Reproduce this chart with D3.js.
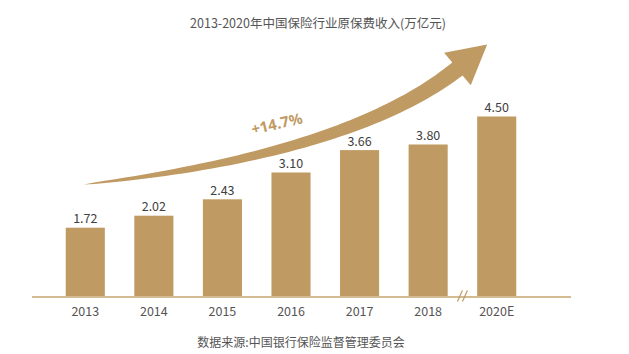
<!DOCTYPE html>
<html>
<head>
<meta charset="utf-8">
<script src="https://cdn.jsdelivr.net/npm/d3@7"></script>
<style>
  body { margin: 0; background: #fff; }
  svg text { font-family: "Noto Sans CJK SC", "Noto Sans", sans-serif; }
</style>
</head>
<body>
<svg id="chart" width="629" height="354"></svg>
<script>
const years = ["2013", "2014", "2015", "2016", "2017", "2018", "2020E"];
const premiums = [1.72, 2.02, 2.43, 3.10, 3.66, 3.80, 4.50];
const growthLabel = "+14.7%";
const titleText = "2013-2020年中国保险行业原保费收入(万亿元)";
const sourceText = "数据来源:中国银行保险监督管理委员会";

const gold = "#c09a63";
const svg = d3.select("#chart");

const x = d3.scaleBand()
    .domain(years)
    .range([51, 531])
    .paddingInner(0.43)
    .paddingOuter(0.215);

const y = d3.scaleLinear()
    .domain([0, 4.5])
    .range([296.5, 116.5]);

// title
svg.append("text")
    .attr("x", 318)
    .attr("y", 28)
    .attr("text-anchor", "middle")
    .attr("font-size", "12.5px")
    .attr("fill", "#555")
    .text(titleText);

// bars
svg.selectAll(".bar")
    .data(years)
    .enter()
    .append("rect")
    .attr("class", "bar")
    .attr("x", d => x(d))
    .attr("y", (d, i) => y(premiums[i]))
    .attr("width", x.bandwidth())
    .attr("height", (d, i) => y(0) - y(premiums[i]))
    .attr("fill", gold);

// value labels
svg.selectAll(".val")
    .data(years)
    .enter()
    .append("text")
    .attr("class", "val")
    .attr("x", d => x(d) + x.bandwidth() / 2)
    .attr("y", (d, i) => y(premiums[i]) - 4.5)
    .attr("text-anchor", "middle")
    .attr("font-size", "12.5px")
    .attr("fill", "#404040")
    .text((d, i) => premiums[i].toFixed(2));

// baseline
svg.append("line")
    .attr("x1", 32)
    .attr("x2", 571)
    .attr("y1", y(0) + 0.5)
    .attr("y2", y(0) + 0.5)
    .attr("stroke", "#d3bb92")
    .attr("stroke-width", 2);

// axis break between 2018 and 2020E
const bx = (x("2018") + x.bandwidth() + x("2020E")) / 2;
[-2.5, 2.5].forEach(off => {
    svg.append("line")
        .attr("x1", bx + off - 2.5)
        .attr("x2", bx + off + 2.5)
        .attr("y1", y(0) + 5)
        .attr("y2", y(0) - 6)
        .attr("stroke", gold)
        .attr("stroke-width", 1.2);
});

// year labels
const xAxis = svg.append("g")
    .attr("transform", `translate(0,${y(0)})`)
    .call(d3.axisBottom(x).tickSize(0).tickPadding(11));
xAxis.select(".domain").remove();
xAxis.selectAll("text")
    .attr("font-size", "12.5px")
    .attr("fill", "#555")
    .style("font-family", "\"Noto Sans CJK SC\", sans-serif");

// growth arrow (tapered curved shaft + head)
const cx0 = x("2013") + x.bandwidth() / 2 - 1.5;
const P0 = [cx0, y(2.8)];
const P2 = [bx - 5, y(5.69)];
const T = [x("2020E") + 10, y(6.3)];
const dl = Math.hypot(T[0] - P2[0], T[1] - P2[1]);
const dir = [(T[0] - P2[0]) / dl, (T[1] - P2[1]) / dl];
const nrm = [-dir[1], dir[0]];
const P1 = [350, 154];

function bez(t) {
    const a = (1 - t) * (1 - t), b = 2 * t * (1 - t), c = t * t;
    return [a * P0[0] + b * P1[0] + c * P2[0], a * P0[1] + b * P1[1] + c * P2[1]];
}
function tan(t) {
    const dx = 2 * (1 - t) * (P1[0] - P0[0]) + 2 * t * (P2[0] - P1[0]);
    const dy = 2 * (1 - t) * (P1[1] - P0[1]) + 2 * t * (P2[1] - P1[1]);
    const l = Math.hypot(dx, dy);
    return [dx / l, dy / l];
}
const upper = [], lower = [];
d3.range(0, 1.0001, 0.02).forEach(t => {
    const p = bez(t), tg = tan(t);
    const w = 8.3 * Math.pow(t, 0.62);
    const n = [-tg[1], tg[0]];
    upper.push([p[0] - n[0] * w, p[1] - n[1] * w]);
    lower.push([p[0] + n[0] * w, p[1] + n[1] * w]);
});
const hw = 21;
const headL = [P2[0] - nrm[0] * hw, P2[1] - nrm[1] * hw];
const headR = [P2[0] + nrm[0] * hw, P2[1] + nrm[1] * hw];
const pts = upper.concat([headL, T, headR], lower.reverse());
svg.append("path")
    .attr("d", d3.line()(pts) + "Z")
    .attr("fill", gold);

svg.append("text")
    .attr("transform", "translate(278,129) rotate(-13)")
    .attr("text-anchor", "middle")
    .attr("font-size", "15px")
    .attr("font-weight", "bold")
    .attr("fill", gold)
    .style("font-family", "\"Noto Sans\", sans-serif")
    .text(growthLabel);

// source
svg.append("text")
    .attr("x", 301)
    .attr("y", 347)
    .attr("text-anchor", "middle")
    .attr("font-size", "12px")
    .attr("fill", "#555")
    .text(sourceText);
</script>
</body>
</html>
